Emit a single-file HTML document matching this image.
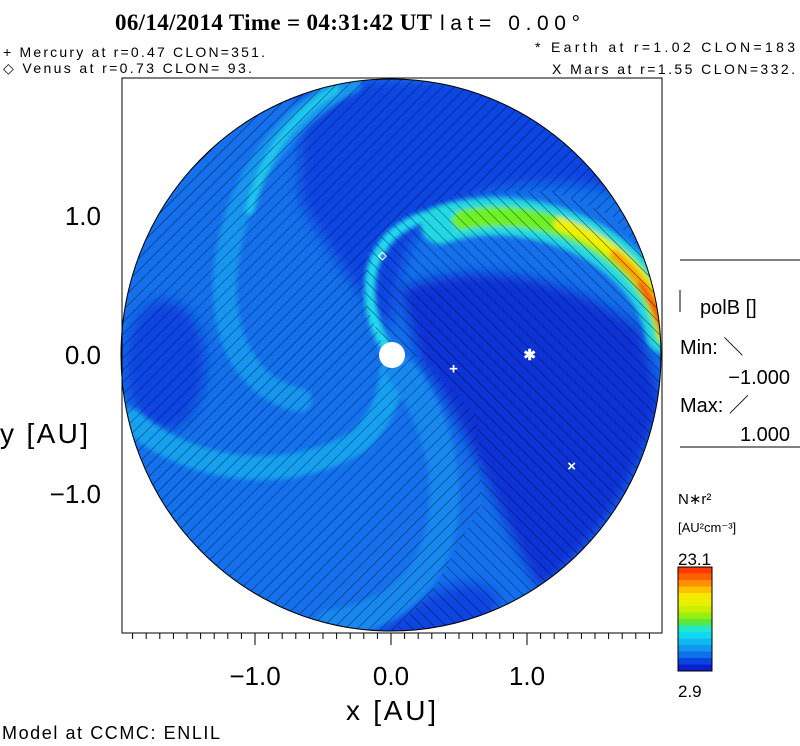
<!DOCTYPE html>
<html><head><meta charset="utf-8"><style>
body{margin:0;background:#fff;}
svg{display:block;}
text{font-family:"Liberation Sans",sans-serif;fill:#000;}
</style></head><body>
<svg id="chart" width="800" height="746" viewBox="0 0 800 746">
<defs>
<clipPath id="disk"><ellipse cx="391" cy="355" rx="270" ry="276"/></clipPath>
<pattern id="hatchF" width="8.5" height="8.5" patternUnits="userSpaceOnUse" patternTransform="rotate(45)"><line x1="0" y1="0" x2="0" y2="8.5" stroke="#000" stroke-width="0.7"/></pattern>
<pattern id="hatchB" width="8.5" height="8.5" patternUnits="userSpaceOnUse" patternTransform="rotate(-45)"><line x1="0" y1="0" x2="0" y2="8.5" stroke="#000" stroke-width="0.7"/></pattern>
<mask id="maskF"><ellipse cx="391" cy="355" rx="270" ry="276" fill="#fff"/><polygon points="467,191 553,191 612,216 663,277 700,277 700,700 391,700 391,634 432,592 481,504 477,415 422,358 384,347 363,298 370,248 405,213" fill="#000"/></mask>
<filter id="soft"><feGaussianBlur stdDeviation="6"/></filter>
<filter id="soft2"><feGaussianBlur stdDeviation="2.5"/></filter>
</defs>
<text x="115" y="30" textLength="317" style="font-family:'Liberation Serif',serif;font-weight:bold;font-size:23px">06/14/2014 Time = 04:31:42 UT</text>
<text x="440" y="30" textLength="140" style="font-size:21px">lat= 0.00°</text>
<g style="font-size:14px">
<text x="3" y="57" textLength="262">+ Mercury at r=0.47 CLON=351.</text>
<text x="3" y="73" textLength="249">◇ Venus at r=0.73 CLON= 93.</text>
<text x="535" y="52" textLength="260">* Earth at  r=1.02 CLON=183</text>
<text x="552" y="74" textLength="243">X Mars at r=1.55 CLON=332.</text>
</g>
<g clip-path="url(#disk)">
<ellipse cx="391" cy="355" rx="270" ry="276" fill="#1470ec"/>
<g filter="url(#soft)">
<path d="M300,80 L640,80 L640,200 C560,170 470,180 420,230 C400,260 395,300 392,330 C360,300 330,250 300,200 Z" fill="#0a44e2"/>
<path d="M400,290 C470,260 560,270 640,330 L662,400 C640,480 600,540 540,590 C500,520 470,430 420,360 Z" fill="#0a30d6"/>
<ellipse cx="165" cy="365" rx="40" ry="65" fill="#0a44e2"/>
<path d="M360,640 C420,600 470,560 500,600 L480,650 Z" fill="#0a44e2"/>
</g>
<g filter="url(#soft2)" fill="none" stroke-linecap="round">
<path d="M350,82 C280,120 230,190 225,280 C222,340 250,390 300,400" stroke="#1696f0" stroke-width="24"/>
<path d="M335,90 C290,115 262,160 250,210" stroke="#1ec8ee" stroke-width="9"/>
<path d="M130,420 C200,480 300,480 360,440 C380,420 390,400 392,370" stroke="#16a0f0" stroke-width="24"/>
<path d="M400,370 C440,420 460,500 430,560 C410,600 370,620 330,625" stroke="#1488f0" stroke-width="30"/>
<path d="M385,345 C365,310 362,265 392,235 C415,215 440,212 460,212" stroke="#20d8f0" stroke-width="11"/>
<path d="M440,225 C500,205 580,220 630,270 C650,290 660,310 665,335" stroke="#20d8e4" stroke-width="38"/>
<path d="M462,220 C515,210 580,222 630,268 C650,290 660,310 665,335" stroke="#6ef028" stroke-width="20"/>
<path d="M560,224 C592,236 615,250 635,272 C650,290 660,310 665,335" stroke="#f0f000" stroke-width="13"/>
<path d="M615,255 C630,268 645,285 655,305 L665,335" stroke="#ffa000" stroke-width="10"/>
<path d="M640,285 C650,298 658,315 665,335" stroke="#ff3a00" stroke-width="6"/>
</g>
<rect x="122" y="78" width="540" height="556" fill="url(#hatchF)" mask="url(#maskF)"/>
<polygon points="467,191 553,191 612,216 663,277 700,277 700,700 391,700 391,634 432,592 481,504 477,415 422,358 384,347 363,298 370,248 405,213" fill="url(#hatchB)"/>
</g>
<ellipse cx="391" cy="355" rx="270" ry="276" fill="none" stroke="#000" stroke-width="1"/>
<circle cx="392" cy="355" r="13" fill="#fff"/>
<rect x="122" y="78" width="540" height="555" fill="none" stroke="#000" stroke-width="1"/>
<g id="axes"></g>
<g id="markers"></g>
<text x="0" y="443" textLength="88" style="font-size:28px">y [AU]</text>
<text x="346" y="720" textLength="90" style="font-size:28px">x [AU]</text>
<text x="2" y="739" textLength="218" style="font-size:18px">Model at CCMC: ENLIL</text>
<g>
<line x1="680" y1="260" x2="800" y2="260" stroke="#000"/>
<line x1="680" y1="290" x2="680" y2="312" stroke="#000"/>
<text x="700" y="314" style="font-size:20px">polB []</text>
<text x="680" y="354" style="font-size:20px">Min: ＼</text>
<text x="790" y="384" text-anchor="end" style="font-size:20px">−1.000</text>
<text x="680" y="412" style="font-size:20px">Max: ／</text>
<text x="790" y="441" text-anchor="end" style="font-size:20px">1.000</text>
<line x1="680" y1="447" x2="800" y2="447" stroke="#000"/>
</g>
<g>
<text x="678" y="504" style="font-size:15px">N∗r²</text>
<text x="678" y="532" style="font-size:13px">[AU²cm⁻³]</text>
<text x="678" y="565" style="font-size:17px">23.1</text>
<g id="cbar"></g>
<rect x="678" y="567" width="34" height="104" fill="none" stroke="#000"/>
<text x="678" y="697" style="font-size:17px">2.9</text>
</g>
</svg>
<script>
const xTicks=[-1.0,0.0,1.0];
const yTicks=[1.0,0.0,-1.0];
const tickLabels=["−1.0","0.0","1.0"];
const yTickLabels=["1.0","0.0","−1.0"];
const planetNames=["Mercury","Venus","Earth","Mars"];
const planetR=[0.47,0.73,1.02,1.55];
const planetAngle=[-12,95,0,-31];
const planetSymbols=["+","◇","✱","×"];
const cbarColors=["#ff3a00","#ff6000","#ff9000","#ffc000","#f8e800","#e8f000","#c8f000","#98ee10","#5ae840","#20e8c8","#10d8f0","#10b8f0","#1098f0","#1070ea","#0a44e0","#0a20d0"];
const NS="http://www.w3.org/2000/svg";
const px=x=>391+x*136, py=y=>355-y*139;
const ax=document.getElementById('axes');
function mk(tag,attrs,parent){const e=document.createElementNS(NS,tag);for(const k in attrs)e.setAttribute(k,attrs[k]);parent.appendChild(e);return e;}
for(let i=-20;i<=20;i++){const v=i/10;const X=px(v);if(X<122||X>662)continue;const major=i%10===0;
 const t=mk('line',{x1:X,y1:633,x2:X,y2:major?645:639,stroke:'#000'},ax);
 
 }
xTicks.forEach((v,i)=>{const t=mk('text',{x:px(v),y:685,'text-anchor':'middle','font-size':'26'},ax);t.textContent=tickLabels[i];
 
 });
yTicks.forEach((v,i)=>{const t=mk('text',{x:101,y:py(v)+9,'text-anchor':'end','font-size':'26'},ax);t.textContent=yTickLabels[i];
 
 });
const mg=document.getElementById('markers');
planetNames.forEach((n,i)=>{const a=planetAngle[i]*Math.PI/180;
 const X=px(planetR[i]*Math.cos(a)),Y=py(planetR[i]*Math.sin(a));
 const t=mk('text',{x:X,y:Y+5,'text-anchor':'middle','font-size':i==1?'11':'15',style:'fill:#fff;font-weight:bold'},mg);
 t.textContent=planetSymbols[i];
 
 });
const cb=document.getElementById('cbar');
const h=104/cbarColors.length;
cbarColors.forEach((c,i)=>{const r=mk('rect',{x:678,y:567+i*h,width:34,height:h+0.5,fill:c},cb);
 
 });
</script>
</body></html>
